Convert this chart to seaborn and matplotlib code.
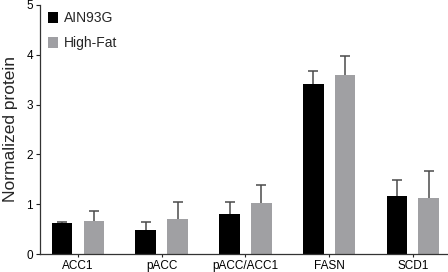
import numpy as np
import pandas as pd
import matplotlib
matplotlib.use("Agg")
import matplotlib.pyplot as plt
import seaborn as sns
from matplotlib.patches import Patch

categories = ["ACC1", "pACC", "pACC/ACC1", "FASN", "SCD1"]
groups = ["AIN93G", "High-Fat"]
ain93g_mean = [0.62, 0.48, 0.80, 3.42, 1.16]
ain93g_err = [0.03, 0.16, 0.24, 0.25, 0.32]
highfat_mean = [0.66, 0.70, 1.03, 3.59, 1.13]
highfat_err = [0.20, 0.34, 0.36, 0.39, 0.54]
colors = ["#000000", "#9f9fa3"]

sns.set_style("ticks")
plt.rcParams["font.family"] = ["Liberation Sans", "DejaVu Sans"]

df = pd.DataFrame({
    "category": categories * 2,
    "group": [groups[0]] * 5 + [groups[1]] * 5,
    "value": ain93g_mean + highfat_mean,
})
errs = {groups[0]: ain93g_err, groups[1]: highfat_err}

fig = plt.figure(figsize=(4.48, 2.72), dpi=100)
ax = fig.add_axes([0.0893, 0.066, 0.909, 0.916])

sns.barplot(data=df, x="category", y="value", hue="group", order=categories,
            hue_order=groups, palette=colors, width=0.76, gap=0.35,
            linewidth=0, errorbar=None, legend=False, ax=ax)

for cont, g in zip(list(ax.containers), groups):
    xs = np.array([p.get_x() + p.get_width() / 2 for p in cont.patches])
    hs = np.array([p.get_height() for p in cont.patches])
    e = np.array(errs[g])
    ax.vlines(xs, hs, hs + e, colors="#4a4a4a", linewidth=1.1, zorder=0.9)
    ax.hlines(hs + e, xs - 0.06, xs + 0.06, colors="#4a4a4a", linewidth=1.1,
              zorder=0.9)

ax.set_ylim(0, 5)
ax.set_xlim(-0.454, 4.41)
ax.set_yticks([0, 1, 2, 3, 4, 5])
ax.set_xlabel("")
ax.set_ylabel("Normalized protein", fontsize=12.5, labelpad=6)
ax.tick_params(axis="y", length=3, width=0.8, labelsize=8.5, pad=2, colors="#222222")
ax.tick_params(axis="x", length=2, width=0.8, labelsize=8.5, pad=2, colors="#222222")
for lab in ax.get_xticklabels() + ax.get_yticklabels():
    lab.set_color("black")
for s in ["left", "bottom"]:
    ax.spines[s].set_linewidth(0.9)
    ax.spines[s].set_color("#333333")
sns.despine(ax=ax)

handles = [Patch(facecolor=c, edgecolor="none") for c in colors]
ax.legend(handles, groups, loc="upper left", bbox_to_anchor=(-0.012, 1.025),
          frameon=False, fontsize=10, handlelength=0.75, handleheight=0.85,
          handletextpad=0.4, labelspacing=0.8, borderaxespad=0.5)

fig.savefig("out.png", dpi=100)
